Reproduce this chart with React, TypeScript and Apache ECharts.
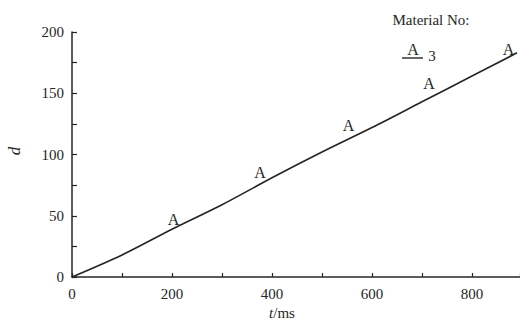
import React, { useEffect, useRef } from "react";
import * as echarts from "echarts";

const timeMs = [0, 100, 200, 300, 400, 500, 600, 700, 800, 890];
const dValues = [0, 18, 39, 59, 81, 102, 122, 143, 164, 183];
const markerTimes = [205, 378, 555, 716, 875];
const markerValues = [41, 80, 118, 152, 180];
const markerText = "A";
const legendTitle = "Material No:";
const legendNumber = "3";

const FONT = "Liberation Serif";
const INK = "#262626";

export default function App() {
  const ref = useRef<HTMLDivElement>(null);
  useEffect(() => {
    if (!ref.current) return;
    const chart = echarts.init(ref.current, null, { renderer: "svg" });
    chart.setOption({
      animation: false,
      backgroundColor: "#ffffff",
      grid: { left: 72, right: 0, top: 32, bottom: 45 },
      xAxis: {
        type: "value",
        min: 0,
        max: 896,
        interval: 200,
        axisLine: { show: true, lineStyle: { color: INK, width: 1.5 } },
        axisTick: { show: true, inside: true, length: 4, lineStyle: { color: INK, width: 1.2 } },
        minorTick: { show: true, splitNumber: 2, length: 4, lineStyle: { color: INK, width: 1.2 } },
        splitLine: { show: false },
        axisLabel: {
          color: INK,
          fontFamily: FONT,
          fontSize: 15,
          margin: 9,
          showMaxLabel: false,
        },
      },
      yAxis: {
        type: "value",
        min: 0,
        max: 200,
        interval: 50,
        axisLine: { show: true, lineStyle: { color: INK, width: 1.5 } },
        axisTick: { show: true, inside: true, length: 5, lineStyle: { color: INK, width: 1.2 } },
        minorTick: { show: true, splitNumber: 2, length: 5, lineStyle: { color: INK, width: 1.2 } },
        splitLine: { show: false },
        axisLabel: { color: INK, fontFamily: FONT, fontSize: 15, margin: 8 },
      },
      series: [
        {
          type: "line",
          data: timeMs.map((t, i) => [t, dValues[i]]),
          showSymbol: false,
          smooth: 0.3,
          lineStyle: { color: INK, width: 1.7 },
        },
        {
          type: "scatter",
          data: markerTimes.map((t, i) => [t, markerValues[i]]),
          symbolSize: 1,
          itemStyle: { color: INK, opacity: 0 },
          emphasis: { disabled: true },
          label: {
            show: true,
            formatter: markerText,
            position: "inside",
            offset: [-1, -7],
            color: INK,
            opacity: 1,
            fontFamily: FONT,
            fontSize: 16,
          },
        },
      ],
      graphic: [
        {
          type: "text",
          rotation: Math.PI / 2,
          x: 14,
          y: 151,
          style: {
            text: "d",
            fill: INK,
            font: `italic 17px ${FONT}`,
            align: "center",
            verticalAlign: "middle",
          },
        },
        {
          type: "text",
          x: 282,
          y: 313,
          style: {
            text: "{i|t}/ms",
            fill: INK,
            align: "center",
            verticalAlign: "middle",
            font: `15px ${FONT}`,
            rich: { i: { fontStyle: "italic", fontFamily: FONT, fontSize: 15, fill: INK } },
          },
        },
        {
          type: "text",
          x: 431,
          y: 20,
          style: {
            text: legendTitle,
            fill: INK,
            font: `15px ${FONT}`,
            align: "center",
            verticalAlign: "middle",
          },
        },
        {
          type: "line",
          shape: { x1: 402, y1: 58, x2: 423, y2: 58 },
          style: { stroke: INK, lineWidth: 1.4 },
        },
        {
          type: "text",
          x: 413,
          y: 57.5,
          style: {
            text: markerText,
            fill: INK,
            font: `16px ${FONT}`,
            align: "center",
            verticalAlign: "bottom",
          },
        },
        {
          type: "text",
          x: 432,
          y: 56,
          style: {
            text: legendNumber,
            fill: INK,
            font: `15px ${FONT}`,
            align: "center",
            verticalAlign: "middle",
          },
        },
      ],
    });
    return () => chart.dispose();
  }, []);
  return <div ref={ref} style={{ width: 520, height: 322, position: "absolute", left: 0, top: 0 }} />;
}
